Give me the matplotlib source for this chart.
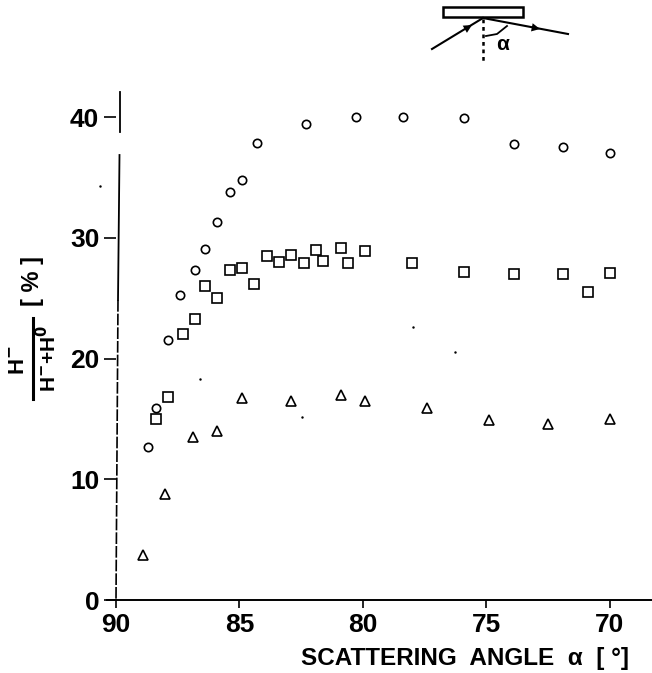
import matplotlib
matplotlib.use("Agg")
import matplotlib.pyplot as plt
from matplotlib.patches import Rectangle, FancyArrowPatch

plt.rcParams['font.family'] = ['Liberation Sans', 'DejaVu Sans']
plt.rcParams['font.weight'] = 'bold'

# values
circle_x = [88.7, 88.4, 87.9, 87.4, 86.8, 86.4, 85.9, 85.4, 84.9, 84.3, 82.3, 80.3, 78.4, 75.9, 73.9, 71.9, 70.0]
circle_y = [12.7, 15.9, 21.5, 25.3, 27.3, 29.1, 31.3, 33.8, 34.8, 37.9, 39.4, 40.0, 40.0, 39.9, 37.8, 37.5, 37.0]
square_x = [88.4, 87.9, 87.3, 86.8, 86.4, 85.9, 85.4, 84.9, 84.4, 83.9, 83.4, 82.9, 82.4, 81.9, 81.6, 80.9, 80.6, 79.9, 78.0, 75.9, 73.9, 71.9, 70.9, 70.0]
square_y = [15.0, 16.8, 22.0, 23.3, 26.0, 25.0, 27.3, 27.5, 26.2, 28.5, 28.0, 28.6, 27.9, 29.0, 28.1, 29.2, 27.9, 28.9, 27.9, 27.2, 27.0, 27.0, 25.5, 27.1]
triangle_x = [88.9, 88.0, 86.9, 85.9, 84.9, 82.9, 80.9, 79.9, 77.4, 74.9, 72.5, 70.0]
triangle_y = [3.7, 8.8, 13.5, 14.0, 16.7, 16.5, 17.0, 16.5, 15.9, 14.9, 14.6, 15.0]
x_ticks = [90, 85, 80, 75, 70]
y_ticks = [0, 10, 20, 30, 40]

W, H = 652, 673
fig = plt.figure(figsize=(W / 100, H / 100), dpi=100)

# page overlay in pixel coordinates for the sketch and the label
page = fig.add_axes([0, 0, 1, 1])
page.set_xlim(0, W)
page.set_ylim(H, 0)
page.axis('off')

ax = fig.add_axes([116 / W, 1 - 600 / H, (W - 116) / W, (600 - 92) / H])
ax.patch.set_alpha(0)
ax.set_xlim(90, 90 - (W - 116) / 24.7)
ax.set_ylim(0, (600 - 92) / 12.07)

ax.plot(circle_x, circle_y, 'o', mfc='none', mec='black', ms=6, mew=1.2, clip_on=False)
ax.plot(square_x, square_y, 's', mfc='none', mec='black', ms=7, mew=1.2, clip_on=False)
ax.plot(triangle_x, triangle_y, '^', mfc='none', mec='black', ms=6.5, mew=1.2, clip_on=False)

for s in ['top', 'right', 'left']:
    ax.spines[s].set_visible(False)
ax.spines['bottom'].set_linewidth(1.4)

ax.set_xticks(x_ticks)
ax.set_yticks(y_ticks)
ax.tick_params(axis='x', length=6, width=1.2, pad=3, labelsize=19)
ax.tick_params(axis='y', length=9, width=1.2, pad=3, labelsize=19)

# broken y axis line, dashed near the bottom like the scan
page.plot([120, 120], [92, 132], color='black', lw=1.3)
page.plot([119.5, 118], [155, 300], color='black', lw=1.3)
page.plot([118, 116], [300, 600], color='black', lw=1.2, ls=(0, (7, 1.2)))
page.plot([107, 116], [600, 600], color='black', lw=1.4)

page.text(465, 658, 'SCATTERING  ANGLE  α  [ °]', fontsize=17.5, ha='center', va='center')

# y label as a fraction, rotated
page.plot([33, 33], [318, 399], color='black', lw=2.2)
page.text(18, 360, 'H$^{-}$', rotation=90, fontsize=16, ha='center', va='center')
page.text(48, 358, 'H$^{-}$+H$^{0}$', rotation=90, fontsize=15, ha='center', va='center')
page.text(33, 281, '[ % ]', rotation=90, fontsize=17, ha='center', va='center')

# scattering sketch on top
page.add_patch(Rectangle((443, 7), 80, 10, fc='none', ec='black', lw=1.8))
page.plot([432, 483], [49, 18], color='black', lw=1.5)
page.plot([483, 568], [18, 34], color='black', lw=1.5)
page.add_patch(FancyArrowPatch((450, 38), (472, 25), arrowstyle='-|>', mutation_scale=15, color='black', lw=0, shrinkA=0, shrinkB=0))
page.add_patch(FancyArrowPatch((518, 24.5), (540, 29), arrowstyle='-|>', mutation_scale=15, color='black', lw=0, shrinkA=0, shrinkB=0))
page.plot([483, 483], [19, 63], color='black', lw=1.8, ls=(0, (1.5, 1.5)))
page.plot([486, 497, 507], [36, 34, 26], color='black', lw=1.3)
page.text(503, 44, 'α', fontsize=15, ha='center', va='center')

# specks from the scan
page.plot([100, 200, 302, 413, 455], [186, 379, 417, 327, 352], '.', color='black', ms=1.5)

fig.savefig('out.png', dpi=100)
